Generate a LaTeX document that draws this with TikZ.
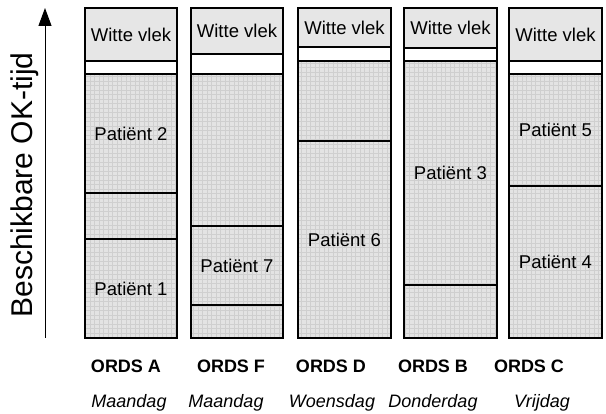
\documentclass[tikz,border=0pt]{standalone}
\usepackage{fontspec}
\setmainfont{Liberation Sans}
\usetikzlibrary{arrows.meta}
\definecolor{vlekgray}{HTML}{E6E6E6}
\definecolor{okgray}{HTML}{E3E3E3}
\definecolor{gridgray}{HTML}{CFCFCF}
\begin{document}
\begin{tikzpicture}[x=1pt,y=-1pt,
  box/.style={draw=black,line width=1.2pt},
  okgrid/.style={draw=gridgray,line width=0.3pt,step=4.5pt},
  tekst/.style={font=\fontsize{18.5}{20}\selectfont,inner sep=0pt},
  ords/.style={font=\fontsize{18}{20}\selectfont\bfseries,inner sep=0pt,anchor=base},
  dagtekst/.style={font=\fontsize{18}{20}\selectfont\itshape,inner sep=0pt,anchor=base}]
\useasboundingbox (0,0) rectangle (606,414);
\fill[white] (0,0) rectangle (606,414);
% 8 = top, 338 = bottom of every column
\foreach \col/\xl/\xr/\wv/\pt in {A/85/177/61/74,F/191/283/54/74,D/298/391/47/61,B/404/497/48/61,C/509/602/61/74}{
	\begin{scope}
	\clip (\xl,\pt) rectangle (\xr,338);
	\fill[okgray] (\xl,\pt) rectangle (\xr,338);
	\draw[okgrid] (\xl,\pt) grid (\xr,338);
	\end{scope}
	\draw[box] (\xl,8) rectangle (\xr,338);
	\draw[box,fill=vlekgray] (\xl,8) rectangle (\xr,\wv);
	\draw[box] (\xl,\pt) -- (\xr,\pt);
	\node[tekst] (wv\col) at ({(\xl+\xr)/2},{(8+\wv)/2}) {Witte vlek};
	}
% borders between the patients
\draw[box] (85,193) -- (177,193) (85,239) -- (177,239);
\draw[box] (191,226) -- (283,226) (191,305) -- (283,305);
\draw[box] (298,141) -- (391,141);
\draw[box] (404,285) -- (497,285);
\draw[box] (509,186) -- (602,186);
\node[tekst] (p2) at (131,133.5) {Patiënt 2};
\node[tekst] (p1) at (131,288.5) {Patiënt 1};
\node[tekst] (p7) at (237,265.5) {Patiënt 7};
\node[tekst] (p6) at (344.5,239.5) {Patiënt 6};
\node[tekst] (p3) at (450.5,173) {Patiënt 3};
\node[tekst] (p5) at (555.5,130) {Patiënt 5};
\node[tekst] (p4) at (555.5,262) {Patiënt 4};
% time axis
\coordinate (asvoet) at (45,338);
\coordinate (astop) at (45,8);
\draw[-{Triangle[length=18pt,width=13pt]},line width=1pt] (asvoet) -- (astop);
\node[rotate=90,font=\fontsize{30}{32}\selectfont,inner sep=0pt] (as) at (25,185) {Beschikbare OK-tijd};
% rooms and days
\foreach \col/\x/\dagnaam/\xd in {A/126/Maandag/129,F/231/Maandag/226,D/331/Woensdag/332,B/433/Donderdag/433,C/529/Vrijdag/542}{
	\node[ords] (ords\col) at (\x,373) {ORDS \col};
	\node[dagtekst] (dag\col) at (\xd,408) {\dagnaam};
	}
\end{tikzpicture}
\end{document}
